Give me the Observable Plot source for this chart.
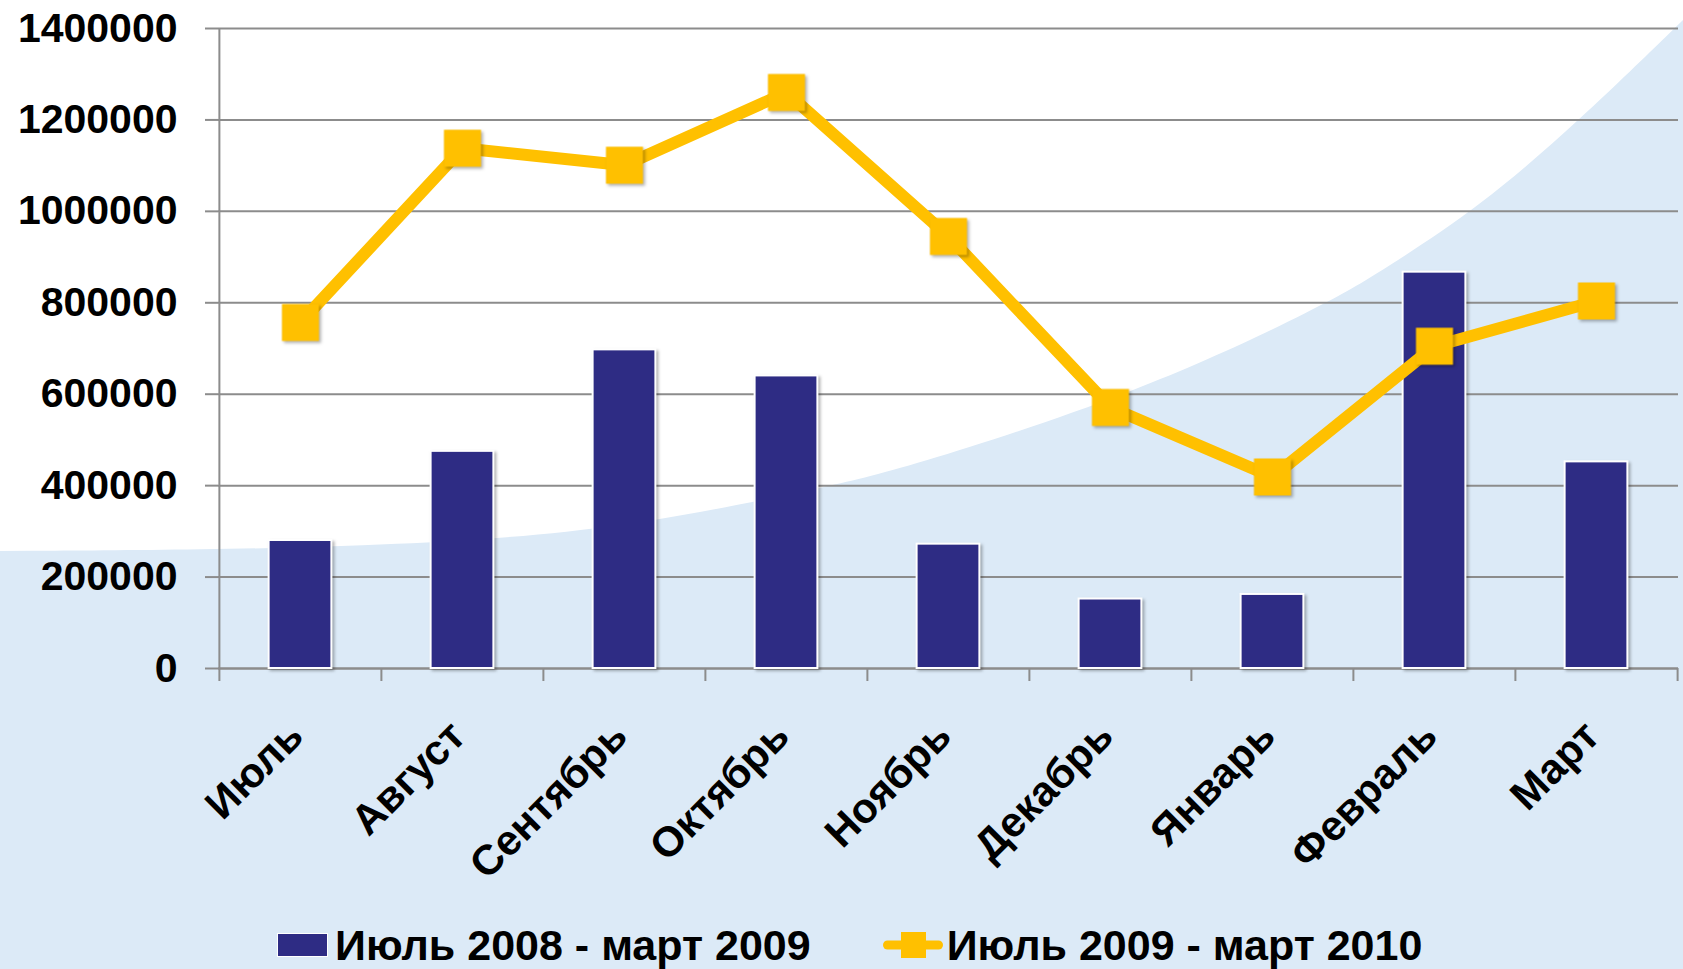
<!DOCTYPE html>
<html>
<head>
<meta charset="utf-8">
<script src="https://cdn.jsdelivr.net/npm/d3@7"></script>
<script src="https://cdn.jsdelivr.net/npm/@observablehq/plot@0.6"></script>
<style>
  html, body { margin: 0; padding: 0; }
  body { width: 1683px; height: 969px; overflow: hidden; position: relative; background: #DCEAF7;
         font-family: "Liberation Sans", Arial, Helvetica, sans-serif; }
  #bg { position: absolute; left: 0; top: 0; z-index: 0; }
  #chart { position: absolute; left: 0; top: 0; z-index: 1; }
  #legend { position: absolute; left: 277px; top: 920px; height: 50px; display: flex; align-items: center;
            font-weight: bold; font-size: 43px; line-height: 50px; color: #000; z-index: 2; white-space: nowrap; }
</style>
</head>
<body>
<svg id="bg" width="1683" height="969"></svg>
<div id="chart"></div>
<div id="legend"></div>
<script>
// ---- data ----
const months = ["Июль", "Август", "Сентябрь", "Октябрь", "Ноябрь", "Декабрь", "Январь", "Февраль", "Март"];
const series1 = [280000, 475000, 697000, 640000, 272000, 152000, 162000, 867000, 452000];
const series2 = [757000, 1138000, 1101000, 1260000, 945000, 571000, 419000, 705000, 804000];
const seriesNames = ["Июль 2008 - март 2009", "Июль 2009 - март 2010"];
const yTicks = [0, 200000, 400000, 600000, 800000, 1000000, 1200000, 1400000];

// ---- styling / layout ----
const W = 1683, H = 915;
const mL = 218, mR = 5, mT = 28, mB = 247;
const barColor = "#2E2C84", lineColor = "#FFC000", gridColor = "#8c8c8c";
const bw = (W - mL - mR) / months.length;

// ---- decorative background (white swoosh over light blue) ----
const bgEdge = [[0, 551], [200, 550], [402, 545], [574, 533], [700, 513], [825, 487], [900, 470],
                [1139, 393], [1327, 304], [1380, 272], [1480, 207], [1580, 120], [1683, 20]];
const bg = d3.select("#bg");
bg.append("rect").attr("width", 1683).attr("height", 969).attr("fill", "#DCEAF7");
const edgePath = d3.line().curve(d3.curveBasis)(bgEdge.slice().reverse());
bg.append("path")
  .attr("d", "M0,0L1683,0" + edgePath.replace(/^M/, "L") + "Z")
  .attr("fill", "#ffffff");

const table = months.map((m, i) => ({month: m, a: series1[i], b: series2[i]}));

const chart = Plot.plot({
  width: W, height: H,
  marginLeft: mL, marginRight: mR, marginTop: mT, marginBottom: mB,
  style: {background: "transparent", fontFamily: "'Liberation Sans', Arial, sans-serif", overflow: "visible", color: "#000"},
  x: {domain: months, padding: 0, axis: null, label: null},
  y: {domain: [0, 1400000], axis: null, label: null},
  marks: [
    Plot.gridY(yTicks, {stroke: gridColor, strokeOpacity: 1, strokeWidth: 2}),
    Plot.axisY({ticks: yTicks, tickSize: 13, tickPadding: 28, stroke: gridColor, strokeWidth: 2, label: null,
                fontSize: 41, fontWeight: "bold", fill: "#000", tickFormat: d3.format("d")}),
    Plot.ruleX([months[0]], {x: d => d, dx: -bw / 2, stroke: gridColor, strokeWidth: 2}),
    Plot.ruleY([0], {stroke: gridColor, strokeWidth: 2}),
    Plot.axisX({tickSize: 13, dx: -bw / 2, tickFormat: () => "", label: null, stroke: gridColor, strokeWidth: 2}),
    Plot.axisX({ticks: [months[months.length - 1]], tickSize: 13, dx: bw / 2, tickFormat: () => "", label: null, stroke: gridColor, strokeWidth: 2}),
    Plot.barY(table, {x: "month", y: "a", fill: barColor, stroke: "#fff", strokeWidth: 2,
                      insetLeft: (bw - 63) / 2, insetRight: (bw - 63) / 2}),
    Plot.line(table, {x: "month", y: "b", stroke: lineColor, strokeWidth: 12, strokeLinejoin: "miter"}),
    Plot.dot(table, {x: "month", y: "b", symbol: "square", r: 20.9, fill: lineColor, stroke: "none"}),
    Plot.text(months, {x: d => d, frameAnchor: "bottom", dy: 70, dx: 5, rotate: -45, textAnchor: "end",
                       lineAnchor: "bottom", fontSize: 42, fontWeight: "bold", fill: "#000"})
  ]
});
document.getElementById("chart").appendChild(chart);
chart.querySelectorAll('g[aria-label="bar"], g[aria-label="dot"]').forEach(g => {
  g.style.filter = "drop-shadow(2px 2px 1.5px rgba(0,0,0,0.3))";
});

// ---- legend ----
const legend = d3.select("#legend");
const sw1 = legend.append("svg").attr("width", 51).attr("height", 24);
sw1.append("rect").attr("x", 0.5).attr("y", 0.5).attr("width", 50).attr("height", 23)
   .attr("fill", barColor).attr("stroke", "#fff").attr("stroke-width", 1);
legend.append("span").style("margin-left", "7px").text(seriesNames[0]);
const sw2 = legend.append("svg").attr("width", 60).attr("height", 28).style("margin-left", "72px");
sw2.append("line").attr("x1", 4.5).attr("x2", 55.5).attr("y1", 14).attr("y2", 14)
   .attr("stroke", lineColor).attr("stroke-width", 9).attr("stroke-linecap", "round");
sw2.append("rect").attr("x", 18).attr("y", 1).attr("width", 25).attr("height", 26).attr("fill", lineColor);
legend.append("span").style("margin-left", "4px").text(seriesNames[1]);
</script>
</body>
</html>
